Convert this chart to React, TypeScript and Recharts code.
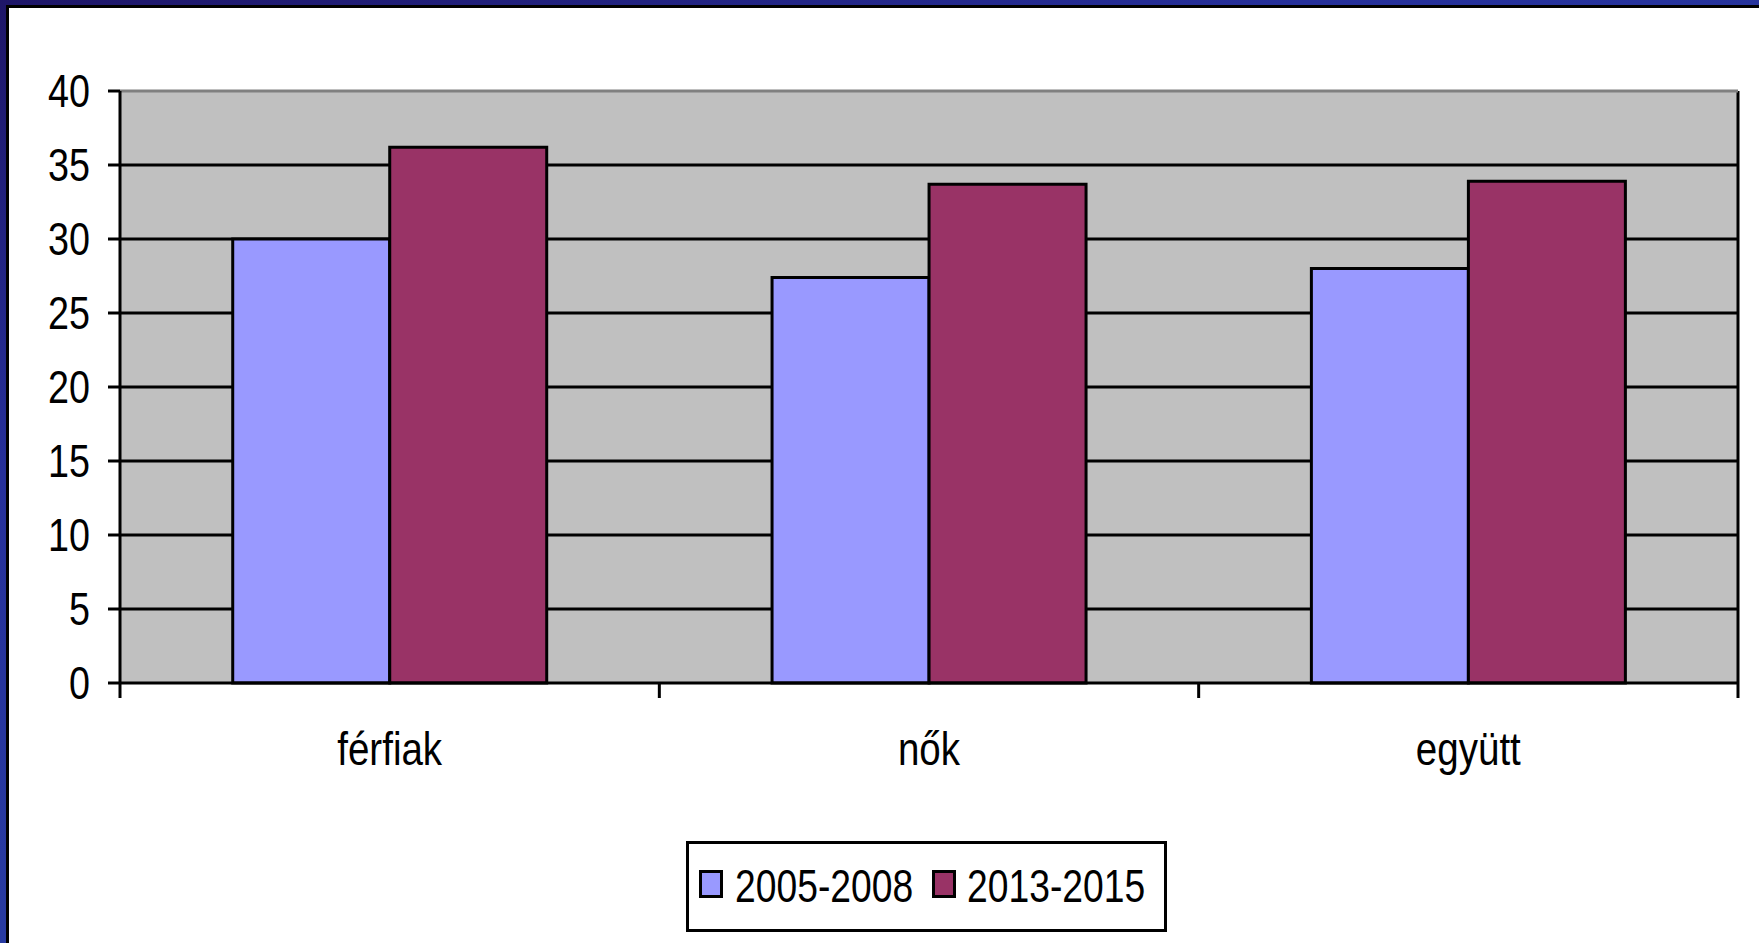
import React from "react";
import { BarChart, Bar, CartesianGrid, XAxis, YAxis, Legend, ReferenceLine } from "recharts";

const categories = ["férfiak", "nők", "együtt"];
const period1 = [30.0, 27.4, 28.0];
const period2 = [36.2, 33.7, 33.9];
const seriesNames = ["2005-2008", "2013-2015"];
const seriesColors = ["#9999FF", "#993366"];
const yTicks = [0, 5, 10, 15, 20, 25, 30, 35, 40];
const innerGridValues = [5, 10, 15, 20, 25, 30, 35];

const data = categories.map((name, i) => ({ name, p1: period1[i], p2: period2[i] }));

const W = 1759;
const H = 943;
const PLOT_LEFT = 120;
const PLOT_RIGHT = 1738;
const PLOT_TOP = 91;
const PLOT_BOTTOM = 683;
const HALF_BAND = (PLOT_RIGHT - PLOT_LEFT) / categories.length / 2;

// no Arial Narrow here, so squeeze Liberation Sans horizontally
const FONT = "'Liberation Sans', Arial, sans-serif";
const NARROW = 0.82;

const NarrowText = ({ x, y, anchor, size, children }: any) => (
    <text
        transform={`translate(${x},${y}) scale(${NARROW},1)`}
        textAnchor={anchor}
        fill="#000"
        fontSize={size}
        fontFamily={FONT}
    >
        {children}
    </text>
);

const YTick = (props: any) => {
    const { x, y, payload } = props;
    return (
        <NarrowText x={x} y={y + 16} anchor="end" size={46}>
            {payload.value}
        </NarrowText>
    );
};

// tick marks sit on category boundaries, label in the middle
const XTick = (props: any) => {
    const { x, payload, index } = props;
    const y0 = PLOT_BOTTOM;
    return (
        <g>
            <line x1={x - HALF_BAND} x2={x - HALF_BAND} y1={y0} y2={y0 + 15} stroke="#000" strokeWidth={3} />
            {index === categories.length - 1 && (
                <line x1={x + HALF_BAND} x2={x + HALF_BAND} y1={y0} y2={y0 + 15} stroke="#000" strokeWidth={3} />
            )}
            <NarrowText x={x} y={y0 + 82} anchor="middle" size={47}>
                {payload.value}
            </NarrowText>
        </g>
    );
};

const legendSquareX = [13, 246];
const legendTextX = [49, 281];

const LegendBox = () => (
    <div
        style={{
            position: "relative",
            boxSizing: "border-box",
            width: 481,
            height: 91,
            border: "3px solid #000",
            background: "#fff",
            fontFamily: FONT,
            fontSize: 46,
            color: "#000",
        }}
    >
        {seriesNames.map((n, i) => (
            <React.Fragment key={n}>
                <span
                    style={{
                        position: "absolute",
                        left: legendSquareX[i] - 3,
                        top: 26,
                        boxSizing: "border-box",
                        width: 24,
                        height: 28,
                        background: seriesColors[i],
                        border: "3px solid #000",
                    }}
                />
                <span
                    style={{
                        position: "absolute",
                        left: legendTextX[i] - 3,
                        top: 0,
                        height: 85,
                        lineHeight: "85px",
                        whiteSpace: "nowrap",
                        transform: "scaleX(0.81)",
                        transformOrigin: "left center",
                    }}
                >
                    {n}
                </span>
            </React.Fragment>
        ))}
    </div>
);

const App: React.FC = () => {
    return (
        <div
            style={{
                position: "absolute",
                left: 0,
                top: 0,
                width: W,
                height: H,
                overflow: "hidden",
                background: "linear-gradient(160deg, #1e1668 0%, #26309a 30%, #2b4aab 100%)",
            }}
        >
            {/* white slide panel with black edge */}
            <div
                style={{
                    position: "absolute",
                    left: 6,
                    top: 5,
                    width: W - 6,
                    height: H - 5,
                    boxSizing: "border-box",
                    borderLeft: "3px solid #000",
                    borderTop: "3px solid #000",
                    background: "#fff",
                }}
            />
            <div style={{ position: "absolute", left: 0, top: 0 }}>
                <BarChart
                    width={W}
                    height={H}
                    data={data}
                    margin={{ top: PLOT_TOP, right: W - PLOT_RIGHT, left: PLOT_LEFT - 100, bottom: H - PLOT_BOTTOM - 60 }}
                    barCategoryGap="20.9%"
                    barGap={0}
                >
                    <CartesianGrid
                        fill="#C0C0C0"
                        stroke="#000"
                        strokeWidth={3}
                        horizontalValues={innerGridValues}
                        vertical={{ stroke: "#808080", strokeWidth: 3 }}
                        verticalPoints={[PLOT_RIGHT]}
                    />
                    <ReferenceLine y={40} stroke="#808080" strokeWidth={3} />
                    <XAxis
                        dataKey="name"
                        height={60}
                        axisLine={{ stroke: "#000", strokeWidth: 3 }}
                        tickLine={false}
                        tickSize={0}
                        tick={<XTick />}
                        interval={0}
                    />
                    <YAxis
                        width={100}
                        domain={[0, 40]}
                        ticks={yTicks}
                        interval={0}
                        axisLine={{ stroke: "#000", strokeWidth: 3 }}
                        tickLine={{ stroke: "#000", strokeWidth: 3 }}
                        tickSize={12}
                        tickMargin={18}
                        tick={<YTick />}
                    />
                    <Legend
                        layout="horizontal"
                        verticalAlign="middle"
                        align="center"
                        wrapperStyle={{ left: 686, top: 841, width: 481, height: 91 }}
                        content={<LegendBox />}
                    />
                    <Bar dataKey="p1" name={seriesNames[0]} fill={seriesColors[0]} stroke="#000" strokeWidth={3} isAnimationActive={false} />
                    <Bar dataKey="p2" name={seriesNames[1]} fill={seriesColors[1]} stroke="#000" strokeWidth={3} isAnimationActive={false} />
                </BarChart>
            </div>
        </div>
    );
};

export default App;
